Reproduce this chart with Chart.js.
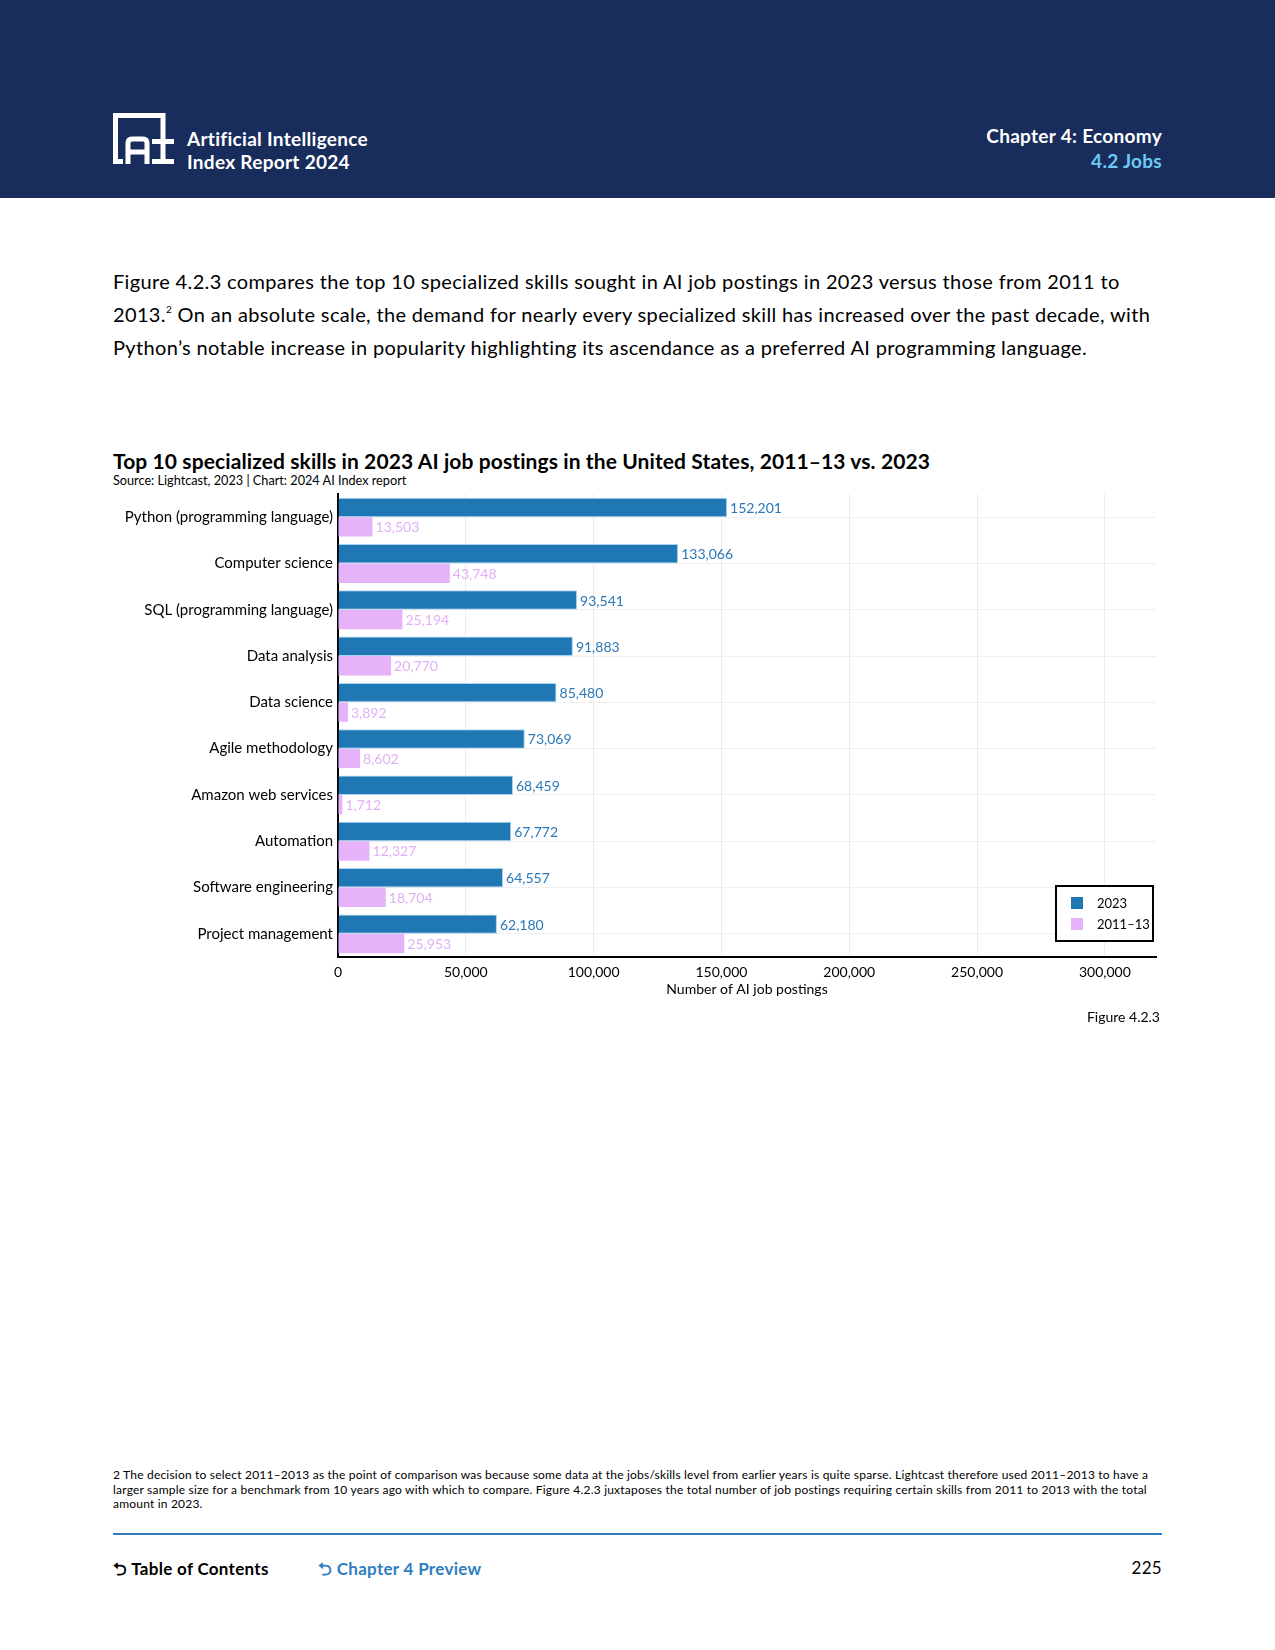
<!DOCTYPE html>
<html>
<head>
<meta charset="utf-8">
<script src="https://cdn.jsdelivr.net/npm/chart.js@4.4.1/dist/chart.umd.min.js"></script>
<style>
  html, body { margin: 0; padding: 0; background: #fff; }
  body { width: 1275px; height: 1650px; position: relative; overflow: hidden; font-family: Lato, "Liberation Sans", Arial, sans-serif; color: #000; }
  .abs { position: absolute; white-space: nowrap; }
  .header { position: absolute; left: 0; top: 0; width: 1275px; height: 198px; background: #182d5c; }
  .brand { color: #fff; font-weight: 700; font-size: 19px; letter-spacing: 0.3px; line-height: 23px; left: 187px; top: 127px; }
  .chap { color: #fff; font-weight: 700; font-size: 19px; letter-spacing: 0.3px; line-height: 25px; right: 113px; top: 123px; text-align: right; }
  .chap span { color: #6ccaf5; }
  .para { left: 113px; top: 265px; font-size: 20px; letter-spacing: 0.35px; line-height: 33px; }
  .para sup { font-size: 10px; vertical-align: 9px; line-height: 0; }
  .title { left: 113px; top: 448px; font-size: 21px; letter-spacing: 0.1px; font-weight: 700; }
  .source { left: 113px; top: 472px; font-size: 12.7px; }
  #chartBox { position: absolute; left: 100px; top: 480px; width: 1070px; height: 530px; }
  .legend { position: absolute; left: 1055px; top: 885px; width: 95px; height: 53px; border: 2px solid #000; background: #fff; font-size: 13px; }
  .legend .row { position: absolute; left: 14px; height: 14px; line-height: 14px; white-space: nowrap; }
  .legend .sw { display: inline-block; width: 12px; height: 12px; vertical-align: -1px; margin-right: 14px; }
  .figno { right: 115px; top: 1008px; font-size: 14px; }
  .foot { left: 113px; top: 1468px; font-size: 12px; letter-spacing: 0.2px; line-height: 14.5px; }
  .rule { position: absolute; left: 113px; top: 1533px; width: 1049px; height: 2px; background: #2f7ebf; }
  .nav { top: 1557px; font-size: 17px; letter-spacing: 0.3px; font-weight: 700; }
</style>
</head>
<body>
<div class="header"></div>
<svg class="abs" style="left:108px;top:108px" width="72" height="62" viewBox="0 0 72 62">
  <path d="M7.5 56 V7.5 H55 V35" fill="none" stroke="#fff" stroke-width="5"/>
  <path d="M5 53.5 H15" fill="none" stroke="#fff" stroke-width="5"/>
  <path d="M20 56 V35 Q20 31 24 31 H35 Q39 31 39 35 V56 M20 44 H39" fill="none" stroke="#fff" stroke-width="5"/>
  <path d="M44 33.5 H66 M55 33 V54 M44 53.5 H66" fill="none" stroke="#fff" stroke-width="5"/>
</svg>
<div class="abs brand">Artificial Intelligence<br>Index Report 2024</div>
<div class="abs chap">Chapter 4: Economy<br><span>4.2 Jobs</span></div>

<div class="abs para">Figure 4.2.3 compares the top 10 specialized skills sought in AI job postings in 2023 versus those from 2011 to<br>2013.<sup>2</sup> On an absolute scale, the demand for nearly every specialized skill has increased over the past decade, with<br>Python’s notable increase in popularity highlighting its ascendance as a preferred AI programming language.</div>

<div class="abs title">Top 10 specialized skills in 2023 AI job postings in the United States, 2011–13 vs. 2023</div>
<div class="abs source">Source: Lightcast, 2023 | Chart: 2024 AI Index report</div>

<div id="chartBox"><canvas id="chart"></canvas></div>
<div class="legend" id="legend"></div>

<div class="abs figno">Figure 4.2.3</div>

<div class="abs foot">2 The decision to select 2011–2013 as the point of comparison was because some data at the jobs/skills level from earlier years is quite sparse. Lightcast therefore used 2011–2013 to have a<br>larger sample size for a benchmark from 10 years ago with which to compare. Figure 4.2.3 juxtaposes the total number of job postings requiring certain skills from 2011 to 2013 with the total<br>amount in 2023.</div>
<div class="rule"></div>
<div class="abs nav" style="left:113px">⮌ Table of Contents</div>
<div class="abs nav" style="left:318px;color:#2f7ebf">⮌ Chapter 4 Preview</div>
<div class="abs nav" style="right:113px;font-weight:400">225</div>

<script>
// skills, in the order they appear top to bottom
const skills = [
  'Python (programming language)',
  'Computer science',
  'SQL (programming language)',
  'Data analysis',
  'Data science',
  'Agile methodology',
  'Amazon web services',
  'Automation',
  'Software engineering',
  'Project management'
];
const postings2023 = [152201, 133066, 93541, 91883, 85480, 73069, 68459, 67772, 64557, 62180];
const postings2011 = [13503, 43748, 25194, 20770, 3892, 8602, 1712, 12327, 18704, 25953];
const seriesNames = ['2023', '2011–13'];
const xTicks = [0, 50000, 100000, 150000, 200000, 250000, 300000];

const BLUE = '#1f77b4';
const PINK = '#e6b3fa';
const LABEL_COLORS = ['#2a78b8', '#e1b0f6'];
const FONT = 'Lato, "Liberation Sans", Arial, sans-serif';

// legend box (sits inside the plot, bottom right)
const legendEl = document.getElementById('legend');
[BLUE, PINK].forEach((c, i) => {
  const row = document.createElement('div');
  row.className = 'row';
  row.style.top = (9 + i * 21) + 'px';
  row.innerHTML = '<span class="sw" style="background:' + c + '"></span>' + seriesNames[i];
  legendEl.appendChild(row);
});

// value labels just past the end of each bar
const barLabels = {
  id: 'barLabels',
  afterDatasetsDraw(chart) {
    const ctx = chart.ctx;
    ctx.save();
    ctx.font = '14px ' + FONT;
    ctx.textBaseline = 'middle';
    ctx.textAlign = 'left';
    chart.data.datasets.forEach((ds, di) => {
      const meta = chart.getDatasetMeta(di);
      ctx.fillStyle = LABEL_COLORS[di];
      meta.data.forEach((bar, i) => {
        ctx.fillText(ds.data[i].toLocaleString('en-US'), bar.x + 3, bar.y + 1);
      });
    });
    ctx.restore();
  }
};

new Chart(document.getElementById('chart'), {
  type: 'bar',
  data: {
    labels: skills,
    datasets: [
      { label: seriesNames[0], data: postings2023, backgroundColor: BLUE, borderColor: '#a9d3f2', borderWidth: 1, borderSkipped: 'left' },
      { label: seriesNames[1], data: postings2011, backgroundColor: PINK, borderColor: PINK, borderWidth: 0 }
    ]
  },
  options: {
    indexAxis: 'y',
    responsive: true,
    maintainAspectRatio: false,
    animation: false,
    categoryPercentage: 0.84,
    barPercentage: 1,
    layout: { padding: { top: 6, right: 14, bottom: 0, left: 0 } },
    plugins: { legend: { display: false }, tooltip: { enabled: false } },
    scales: {
      x: {
        min: 0,
        max: 320000,
        afterBuildTicks: s => { s.ticks = xTicks.map(v => ({ value: v })); },
        afterFit: s => { s.height = 53; },
        grid: { color: '#ececec', drawTicks: false },
        border: { color: '#000', width: 2 },
        ticks: { color: '#000', padding: 7, font: { family: FONT, size: 14 }, callback: v => v.toLocaleString('en-US') },
        title: { display: true, text: 'Number of AI job postings', color: '#000', padding: { top: 0, bottom: 12 }, font: { family: FONT, size: 14 } }
      },
      y: {
        afterFit: s => { s.width = 238; },
        grid: { color: '#efefef', offset: false, drawTicks: false },
        border: { color: '#000', width: 2 },
        ticks: { color: '#000', padding: 5, font: { family: FONT, size: 15 } }
      }
    }
  },
  plugins: [barLabels]
});
</script>
</body>
</html>
